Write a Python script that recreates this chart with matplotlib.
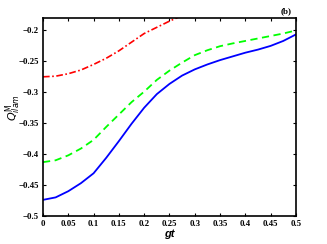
import matplotlib
matplotlib.use("Agg")
import matplotlib.pyplot as plt
import numpy as np

gt = [0.0, 0.025, 0.05, 0.075, 0.1, 0.125, 0.15, 0.175, 0.2, 0.225, 0.25,
      0.275, 0.3, 0.325, 0.35, 0.375, 0.4, 0.425, 0.45, 0.475, 0.5]
blue = [-0.474, -0.470, -0.460, -0.447, -0.431, -0.406, -0.379, -0.351, -0.325, -0.303, -0.2865,
        -0.273, -0.263, -0.255, -0.248, -0.242, -0.236, -0.231, -0.225, -0.217, -0.2065]
green = [-0.413, -0.410, -0.402, -0.391, -0.377, -0.356, -0.336, -0.316, -0.299, -0.280, -0.265,
         -0.252, -0.240, -0.232, -0.2255, -0.221, -0.217, -0.213, -0.209, -0.205, -0.200]
gtRed = [0.0, 0.025, 0.05, 0.075, 0.1, 0.125, 0.15, 0.175, 0.2, 0.225, 0.25, 0.275]
red = [-0.275, -0.274, -0.270, -0.264, -0.255, -0.245, -0.233, -0.219, -0.205, -0.195, -0.185, -0.176]

xTicks = [0, 0.05, 0.1, 0.15, 0.2, 0.25, 0.3, 0.35, 0.4, 0.45, 0.5]
xTickLabels = ["0", "0.05", "0.1", "0.15", "0.2", "0.25", "0.3", "0.35", "0.4", "0.45", "0.5"]
yTicks = [-0.5, -0.45, -0.4, -0.35, -0.3, -0.25, -0.2]
yTickLabels = ["\u22120.5", "\u22120.45", "\u22120.4", "\u22120.35", "\u22120.3", "\u22120.25", "\u22120.2"]

fig = plt.figure(figsize=(3.27, 2.44), dpi=100)
ax = fig.add_axes([0.1315, 0.115, 0.7735, 0.811])

ax.plot(gt, blue, color="#0000ff", lw=1.3, ls="-")
ax.plot(gt, green, color="#00ff00", lw=1.3, ls=(0, (4, 2.5)))
ax.plot(gtRed, red, color="#ff0000", lw=1.2, ls=(0, (4, 1.5, 1, 1.5)))

ax.set_xlim(0, 0.5)
ax.set_ylim(-0.5, -0.18)
ax.set_xticks(xTicks)
ax.set_xticklabels(xTickLabels)
ax.set_yticks(yTicks)
ax.set_yticklabels(yTickLabels)
ax.tick_params(direction="in", top=True, right=True, length=2.5, width=0.8, pad=3)
for lab in ax.get_xticklabels() + ax.get_yticklabels():
    lab.set_fontfamily("Liberation Serif")
    lab.set_fontweight("bold")
    lab.set_fontsize(6.3)
for s in ax.spines.values():
    s.set_linewidth(1.2)

ax.set_xlabel("gt", fontsize=8, fontweight="bold", style="italic",
              family="Liberation Sans", labelpad=1)
ax.set_ylabel(r"$Q^{\mathrm{M}}_{ilam}$", fontsize=8, family="Liberation Serif")
ax.yaxis.set_label_coords(-0.08, 0.55)
fig.text(0.875, 0.955, "(b)", fontsize=6.5, fontweight="bold", family="Liberation Serif",
         ha="center", va="center")

fig.savefig("out.png", dpi=100)
